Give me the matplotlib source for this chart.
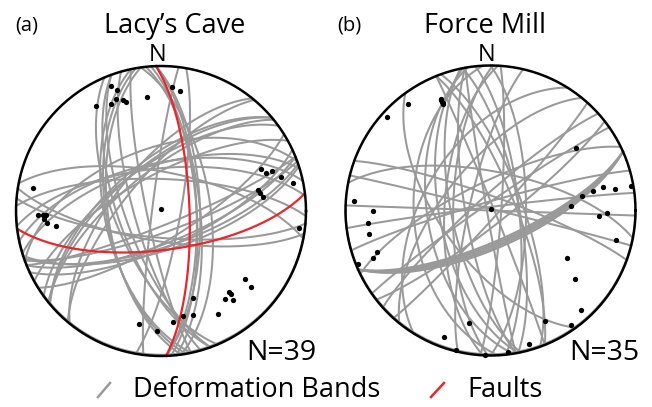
import numpy as np
import matplotlib.pyplot as plt

plt.rcParams['font.family'] = ['Open Sans', 'DejaVu Sans']

# Lacy's Cave - deformation bands, strike/dip (right-hand rule)
lacy_band_strike = [68, 70, 68, 65, 71, 72, 58, 95, 99, 157, 160, 160, 164, 168,
                    168, 170, 172, 187, 90, 10, 358, 358, 356, 354, 352, 219,
                    220, 230, 230, 234, 231, 241, 250, 253, 258, 264, 272, 281]
lacy_band_dip = [82, 78, 72, 70, 70, 68, 74, 75, 73, 64, 66, 70, 75, 82,
                 58, 59, 60, 85, 1, 79, 70, 68, 70, 68, 62, 64,
                 70, 62, 64, 64, 68, 70, 54, 64, 63, 66, 72, 68]
# Lacy's Cave - faults
lacy_fault_strike = [358, 83]
lacy_fault_dip = [74, 68]

# Force Mill - deformation bands
force_band_strike = [52, 42, 66, 66, 66, 66, 66, 144, 4, 0, 354, 349, 340, 338,
                     338, 90, 177, 171, 169, 168, 170, 170, 183, 181, 193, 212,
                     219, 228, 235, 244, 254, 263, 272, 281, 290, 284]
force_band_dip = [82, 86, 73, 72, 71, 70, 69, 62, 84, 70, 74, 74, 72, 76,
                  88, 1, 46, 54, 61, 68, 76, 88, 64, 69, 78, 52,
                  64, 82, 86, 74, 85, 88, 90, 68, 82, 89]

BAND_COLOR = '#999999'
FAULT_COLOR = '#e8262b'
LIM = 1.05
R_PX = 145.0
W, H = 652, 407


def project(e, n, up):
    # lower hemisphere equal-area (Schmidt) projection
    s = np.sqrt(1.0 - up)
    return e / s, n / s


def great_circle(strike, dip, num=240):
    s, d = np.radians(strike), np.radians(dip)
    t = np.linspace(0, np.pi, num)
    sv = np.array([np.sin(s), np.cos(s), 0.0])
    dv = np.array([np.sin(s + np.pi / 2) * np.cos(d),
                   np.cos(s + np.pi / 2) * np.cos(d),
                   -np.sin(d)])
    v = np.outer(np.cos(t), sv) + np.outer(np.sin(t), dv)
    return project(v[:, 0], v[:, 1], v[:, 2])


def pole(strike, dip):
    trend = np.radians(np.asarray(strike) - 90.0)
    plunge = np.radians(90.0 - np.asarray(dip))
    return project(np.sin(trend) * np.cos(plunge),
                   np.cos(trend) * np.cos(plunge),
                   -np.sin(plunge))


def stereonet(fig, cx, cy):
    half = R_PX * LIM
    ax = fig.add_axes([(cx - half) / W, (H - cy - half) / H, 2 * half / W, 2 * half / H])
    ax.set_xlim(-LIM, LIM)
    ax.set_ylim(-LIM, LIM)
    ax.set_aspect('equal')
    ax.axis('off')
    return ax


def draw_net(ax, band_strike, band_dip, fault_strike=(), fault_dip=()):
    for s, d in zip(band_strike, band_dip):
        x, y = great_circle(s, d)
        ax.plot(x, y, color=BAND_COLOR, lw=1.45, zorder=1)
    for s, d in zip(fault_strike, fault_dip):
        x, y = great_circle(s, d)
        ax.plot(x, y, color=FAULT_COLOR, lw=1.6, zorder=2)
    px, py = pole(list(band_strike) + list(fault_strike), list(band_dip) + list(fault_dip))
    ax.plot(px, py, 'o', color='black', ms=3.8, mew=0, zorder=3)
    a = np.linspace(0, 2 * np.pi, 400)
    ax.plot(np.cos(a), np.sin(a), color='black', lw=1.8, zorder=4)


def ftext(x, y, s, size, ha='center', **kw):
    fig.text(x / W, 1 - y / H, s, fontsize=size, ha=ha, va='baseline', **kw)


fig = plt.figure(figsize=(W / 100, H / 100), dpi=100)

ax_a = stereonet(fig, 161, 211)
draw_net(ax_a, lacy_band_strike, lacy_band_dip, lacy_fault_strike, lacy_fault_dip)
ax_b = stereonet(fig, 490.5, 210.5)
draw_net(ax_b, force_band_strike, force_band_dip)

ftext(15, 30, '(a)', 14.5, ha='left')
ftext(175, 33, 'Lacy\u2019s Cave', 19.5)
ftext(158, 61, 'N', 17)
ftext(281, 360, 'N=39', 20.5)

ftext(337, 30, '(b)', 14.5, ha='left')
ftext(485, 33, 'Force Mill', 19.5)
ftext(487, 61, 'N', 17)
ftext(604, 360, 'N=35', 20.5)

# legend
fig.add_artist(plt.Line2D([98 / W, 110 / W], [1 - 397 / H, 1 - 383 / H], color=BAND_COLOR, lw=1.8))
ftext(133, 397, 'Deformation Bands', 19.5, ha='left')
fig.add_artist(plt.Line2D([431 / W, 444 / W], [1 - 397 / H, 1 - 383 / H], color=FAULT_COLOR, lw=1.8))
ftext(467, 397, 'Faults', 19.5, ha='left')

fig.savefig('out.png', dpi=100)
